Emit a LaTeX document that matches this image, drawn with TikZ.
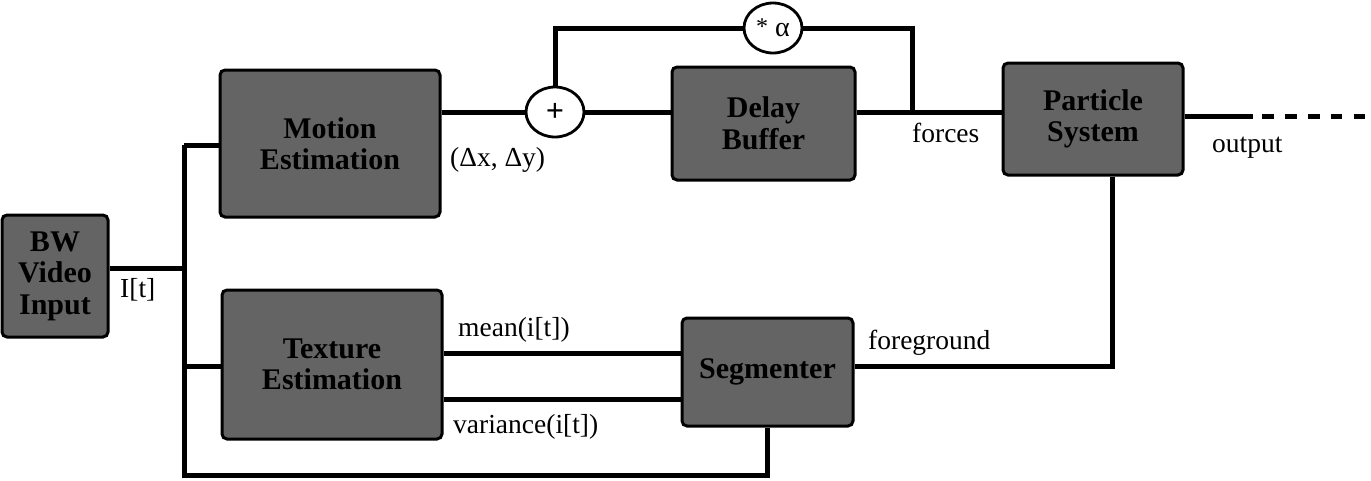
\documentclass[tikz,border=0pt]{standalone}
\usepackage{fontspec}
\setmainfont{Liberation Serif}
\usetikzlibrary{shapes.geometric}
\definecolor{boxgray}{RGB}{100,100,100}
\begin{document}
\begin{tikzpicture}[x=1pt,y=-1pt,
  blk/.style={draw=black, line width=3pt, fill=boxgray, rounded corners=5pt, inner sep=0pt,
    font=\fontsize{30}{31.5}\selectfont\bfseries, align=center},
  wire/.style={line width=5pt, line join=miter},
  op/.style={ellipse, draw=black, line width=2.8pt, fill=white, minimum width=58pt,
    minimum height=50pt, inner sep=0pt, font=\fontsize{28}{30}\selectfont},
  lab/.style={font=\fontsize{27.5}{30}\selectfont, inner sep=0pt}]
\useasboundingbox (0,0) rectangle (1371,480);

% blocks
\node[blk, minimum width=106pt, minimum height=122pt] (bw) at (55,276) {BW\\Video\\Input};
\node[blk, minimum width=220pt, minimum height=147pt] (motion) at (330,143.5) {Motion\\Estimation};
\node[blk, minimum width=183pt, minimum height=113pt] (delay) at (763.5,123.5) {Delay\\Buffer};
\node[blk, minimum width=180pt, minimum height=112pt] (part) at (1093,119) {Particle\\System};
\node[blk, minimum width=220pt, minimum height=149pt] (tex) at (332,364.5) {Texture\\Estimation};
\node[blk, minimum width=171pt, minimum height=108pt] (seg) at (767.5,372) {Segmenter};

% operators
\node[op, font=\fontsize{32}{32}\selectfont\bfseries] (plus) at (555,112) {+};
\node[op] (alpha) at (773,28) {{\fontsize{24}{24}\selectfont\raisebox{2pt}{*}} α};

% helper coordinates
\coordinate (bt) at (184,145);
\coordinate (bb) at (184,475);
\coordinate (bm) at (184,268);
\coordinate (bx) at (184,366);
\coordinate (fj) at (912,112);
\coordinate (oe) at (1253,116);
\coordinate (od0) at (1262,116);
\coordinate (od) at (1366,116);
\coordinate (fc) at (1112,366);
\coordinate (mn) at (560,353);
\coordinate (vr) at (560,399);

% wires
\draw[wire] ([yshift=8pt]bw.east) -- (bm);
\draw[wire] (bt) -- (bb) -- (seg.south |- bb) -- (seg.south);
\draw[wire] (bt) -- (motion.west |- bt);
\draw[wire] (bx) -- (tex.west |- bx);
\draw[wire] (motion.east |- plus.west) -- (plus.west);
\draw[wire] (plus.east) -- (delay.west |- plus.east);
\draw[wire] (delay.east |- fj) -- (part.west |- fj);
\draw[wire] (plus.north) |- (alpha.west);
\draw[wire] (alpha.east) -| (fj);
\draw[wire] (part.east |- oe) -- (oe);
\draw[wire, dash pattern=on 11.7pt off 11.2pt] (od0) -- (od);
\draw[wire] (part.south -| fc) -- (fc) -- (seg.east |- fc);
\draw[wire] (tex.east |- mn) -- (seg.west |- mn);
\draw[wire] (tex.east |- vr) -- (seg.west |- vr);

% labels
\node[lab, anchor=west] (lit) at (120,290) {I[t]};
\node[lab, anchor=west] (ldxy) at (450,160) {(Δx, Δy)};
\node[lab, anchor=west] (lforces) at (912,133) {forces};
\node[lab, anchor=west] (loutput) at (1212,148) {output};
\node[lab, anchor=west] (lfg) at (868,343) {foreground};
\node[lab, anchor=west] (lmean) at (458,330) {mean(i[t])};
\node[lab, anchor=west] (lvar) at (453,427) {variance(i[t])};
\end{tikzpicture}
\end{document}
